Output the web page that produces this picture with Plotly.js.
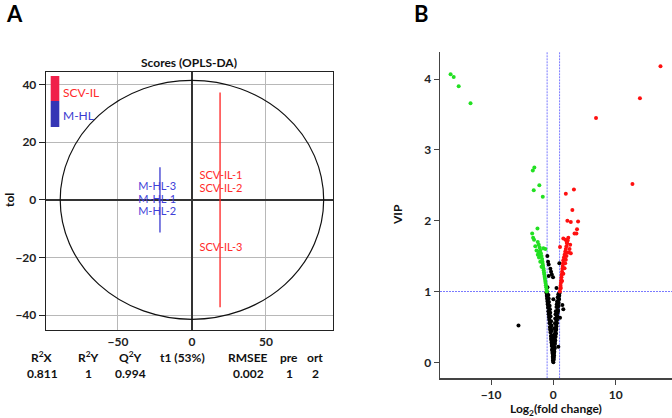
<!DOCTYPE html>
<html><head><meta charset="utf-8">
<script src="https://cdn.plot.ly/plotly-3.0.1.min.js"></script>
<style>html,body{margin:0;padding:0;background:#fff}#chart{width:672px;height:418px}</style>
</head><body><div id="chart"></div>
<script>
// ---- Panel A: OPLS-DA scores ----
const groupNames = ['SCV-IL', 'M-HL'];
const groupColors = ['#ff2020', '#3a3ad0'];
const groupT1 = [19, -21.6];
const groupTolMin = [-37.2, -11.3];
const groupTolMax = [37.2, 11.3];
const sampleNames = ['SCV-IL-1', 'SCV-IL-2', 'SCV-IL-3', 'M-HL-3', 'M-HL-1', 'M-HL-2'];
const sampleGroup = [0, 0, 0, 1, 1, 1];
const sampleT1 = [19.6, 19.6, 19.6, -23.5, -23.5, -23.5];
const sampleTol = [8.1, 3.6, -16.6, 4.3, 0, -4.4];
const ellipseT1 = 89;
const ellipseTol = 41.4;
const statLabels = ['R<sup>2</sup>X', 'R<sup>2</sup>Y', 'Q<sup>2</sup>Y', 't1 (53%)', 'RMSEE', 'pre', 'ort'];
const statValues = ['0.811', '1', '0.994', '', '0.002', '1', '2'];
const scoreXTicks = [-50, 0, 50];
const scoreYTicks = [-40, -20, 0, 20, 40];

// ---- Panel B: volcano (log2 fold change vs VIP) ----
const blackX = [0.00,-0.05,-0.10,-0.15,-0.20,-0.26,-0.30,-0.35,-0.40,-0.45,-0.50,-0.55,-0.60,-0.66,-0.70,-0.75,-0.80,-0.85,-0.90,-0.95,-1.00,-1.05,-1.10,
  0.05,0.10,0.15,0.20,0.25,0.30,0.36,0.40,0.45,0.50,0.55,0.60,0.65,0.70,0.75,0.80,0.85,0.90,0.95,1.00,
  0.02,-0.02,0.05,-0.08,0.10,-0.10,0.08,-0.15,0.12,-0.20,0.20,-0.25,0.15,-0.30,0.25,-0.35,0.30,-0.45,0.35,-0.50,0.40,-0.55,0.50,-0.60,0.55,-0.70,0.60,-0.75,0.70,-0.80,0.80,
  -0.03,0.04,-0.06,0.07,-0.12,0.13,-0.18,0.17,-0.22,0.22,-0.28,0.28,-0.38,0.33,-0.42,0.43,-0.52,0.48,-0.62,0.58,-0.68,0.66,-0.78,0.74,-0.88,0.84,-0.98,0.92,
  -0.08,0.06,-0.16,0.11,-0.24,0.19,-0.33,0.26,-0.47,0.38,-0.58,0.46,-0.72,0.53,-0.83,0.63,-0.93,0.71,-1.02,0.78,-1.08,0.87,
  -5.6,1.6,0.0,1.07,1.45,0.8,
  -0.96,-0.85,-0.75,-0.48,-0.37,-0.74,-0.25,-0.05,0.96,-1.06,-0.95,0.5];
const blackY = [0.00,0.03,0.08,0.13,0.18,0.23,0.28,0.32,0.37,0.42,0.46,0.50,0.55,0.60,0.64,0.68,0.72,0.77,0.82,0.86,0.90,0.94,0.98,
  0.04,0.10,0.15,0.20,0.26,0.31,0.36,0.41,0.46,0.51,0.55,0.60,0.65,0.70,0.74,0.80,0.84,0.89,0.94,0.98,
  0.05,0.10,0.15,0.20,0.22,0.25,0.30,0.30,0.35,0.38,0.40,0.45,0.48,0.52,0.55,0.58,0.62,0.65,0.68,0.70,0.72,0.75,0.78,0.80,0.82,0.85,0.86,0.90,0.92,0.95,0.96,
  0.02,0.07,0.11,0.12,0.17,0.18,0.24,0.27,0.29,0.33,0.36,0.39,0.44,0.43,0.49,0.53,0.57,0.59,0.63,0.66,0.69,0.73,0.77,0.79,0.83,0.88,0.93,0.97,
  0.06,0.08,0.16,0.14,0.26,0.21,0.34,0.29,0.47,0.40,0.56,0.47,0.70,0.56,0.80,0.64,0.88,0.72,0.95,0.79,0.99,0.90,
  0.52,0.75,0.89,0.63,0.81,0.22,
  1.50,1.42,1.38,1.32,1.28,1.22,1.24,1.20,1.40,1.00,1.06,1.05];
const greenX = [-1.05,-1.10,-1.15,-1.20,-1.25,-1.30,-1.35,-1.40,-1.45,-1.50,-1.55,-1.60,-1.65,-1.70,-1.75,-1.80,-1.90,-2.00,-2.10,-2.20,-2.35,-2.50,
  -1.90,-2.10,-2.30,-2.50,-2.70,-2.90,-3.10,-3.25,-3.40,-2.55,-1.70,-3.15,-2.25,-3.30,-3.05,-1.60,-1.28,-2.13,-2.40,
  -16.5,-16.0,-15.2,-13.3];
const greenY = [1.00,1.03,1.06,1.09,1.12,1.15,1.18,1.21,1.24,1.27,1.30,1.33,1.36,1.39,1.42,1.46,1.50,1.54,1.58,1.62,1.66,1.70,
  1.35,1.42,1.48,1.52,1.58,1.64,1.73,1.76,1.82,1.89,2.34,2.43,2.50,2.71,2.75,1.61,1.60,1.52,1.56,
  4.07,4.03,3.90,3.66];
const redX = [1.05,1.10,1.15,1.20,1.25,1.30,1.35,1.40,1.45,1.50,1.55,1.60,1.70,1.80,1.90,2.00,2.10,2.20,2.30,2.40,
  1.20,1.40,1.60,1.80,1.90,2.00,2.10,2.20,2.50,
  1.07,1.60,1.95,2.15,2.70,2.60,2.80,2.00,3.30,3.05,2.25,2.80,3.97,3.80,3.40,3.70,
  17.2,13.9,6.85,12.7];
const redY = [1.00,1.04,1.08,1.12,1.16,1.20,1.24,1.28,1.32,1.36,1.40,1.44,1.48,1.52,1.56,1.60,1.64,1.68,1.72,1.76,
  1.05,1.15,1.25,1.33,1.40,1.45,1.50,1.55,1.55,
  1.63,1.75,1.73,1.70,1.66,1.60,1.54,2.38,2.44,2.15,2.00,1.98,1.99,1.88,1.82,1.82,
  4.18,3.73,3.45,2.52];
const fcThreshold = 1;
const vipThreshold = 1;
const volcanoXTicks = [-10, 0, 10];
const volcanoYTicks = [0, 1, 2, 3, 4];

const FONT = 'Lato, "Open Sans", sans-serif';
const W = 672, H = 418;
const px = v => v / W, py = v => 1 - v / H;

const traces = [];
groupNames.forEach((g, i) => {
  traces.push({x: [groupT1[i], groupT1[i]], y: [groupTolMin[i], groupTolMax[i]], mode: 'lines',
    line: {color: groupColors[i], width: 1.3}, xaxis: 'x', yaxis: 'y', showlegend: false, hoverinfo: 'skip'});
});
traces.push({x: sampleT1, y: sampleTol, mode: 'text', text: sampleNames,
  textfont: {family: FONT, size: 11, color: sampleGroup.map(k => k === 0 ? '#ff2a2a' : '#4040d8')},
  textposition: 'middle center', xaxis: 'x', yaxis: 'y', showlegend: false});
traces.push({x: blackX, y: blackY, mode: 'markers', marker: {color: '#000', size: 4}, xaxis: 'x2', yaxis: 'y2', showlegend: false});
traces.push({x: greenX, y: greenY, mode: 'markers', marker: {color: '#22e022', size: 4}, xaxis: 'x2', yaxis: 'y2', showlegend: false});
traces.push({x: redX, y: redY, mode: 'markers', marker: {color: '#ff1010', size: 4}, xaxis: 'x2', yaxis: 'y2', showlegend: false});

const boldTick = {family: FONT, size: 12, color: '#222', weight: 'bold'};
const dashLine = {color: '#7a7aff', width: 1, dash: '2px,1px'};
const shapes = [
  {type: 'circle', xref: 'x', yref: 'y', x0: -ellipseT1, x1: ellipseT1, y0: -ellipseTol, y1: ellipseTol, line: {color: '#111', width: 1.2}, layer: 'above'},
  {type: 'rect', xref: 'paper', yref: 'paper', x0: px(50.7), x1: px(59.3), y0: py(101), y1: py(76), fillcolor: '#f0204a', line: {width: 0}},
  {type: 'rect', xref: 'paper', yref: 'paper', x0: px(50.7), x1: px(59.3), y0: py(127), y1: py(101), fillcolor: '#3535b5', line: {width: 0}},
  {type: 'line', xref: 'x2', yref: 'y2 domain', x0: -fcThreshold, x1: -fcThreshold, y0: 0, y1: 1, line: dashLine, layer: 'below'},
  {type: 'line', xref: 'x2', yref: 'y2 domain', x0: fcThreshold, x1: fcThreshold, y0: 0, y1: 1, line: dashLine, layer: 'below'},
  {type: 'line', xref: 'x2 domain', yref: 'y2', x0: 0, x1: 1, y0: vipThreshold, y1: vipThreshold, line: dashLine, layer: 'below'}
];

function ann(text, x, y, font, extra) {
  return Object.assign({text: text, x: px(x), y: py(y), xref: 'paper', yref: 'paper', xanchor: 'center', yanchor: 'middle',
    showarrow: false, font: Object.assign({family: FONT, size: 12, color: '#111'}, font)}, extra || {});
}
const statX = [42, 88, 130, 183, 248, 289, 315];
const annotations = [
  ann('A', 14, 14, {size: 22, weight: 'bold', color: '#000'}),
  ann('B', 421, 14, {size: 22, weight: 'bold', color: '#000'}),
  ann('Scores (OPLS-DA)', 189, 62, {weight: 'bold'}),
  ann('tol', 9, 200, {weight: 'bold'}, {textangle: -90}),
  ann('SCV-IL', 61, 92, {color: '#ff2a2a'}, {xanchor: 'left'}),
  ann('M-HL', 61, 115, {color: '#3a3ad0'}, {xanchor: 'left'}),
  ann('VIP', 398, 215, {weight: 'bold'}, {textangle: -90}),
  ann('Log<sub>2</sub>(fold change)', 556, 409, {weight: 'bold'})
];
statLabels.forEach((s, i) => {
  annotations.push(ann(s, statX[i], 357, {weight: 'bold'}));
  if (statValues[i]) annotations.push(ann(statValues[i], statX[i], 373, {weight: 'bold'}));
});

const layout = {
  width: W, height: H, margin: {l: 0, r: 0, t: 0, b: 0}, paper_bgcolor: '#fff', plot_bgcolor: '#fff',
  font: {family: FONT}, showlegend: false,
  xaxis: {domain: [px(46), px(333)], range: [-98.6, 95.3], tickvals: scoreXTicks, showgrid: true, gridcolor: '#b8b8b8',
    zeroline: true, zerolinecolor: '#333', zerolinewidth: 1.5, showline: true, mirror: true, linecolor: '#222', linewidth: 1.3,
    ticks: '', tickfont: boldTick, anchor: 'y', fixedrange: true},
  yaxis: {domain: [py(330), py(72)], range: [-45.1, 44.3], tickvals: scoreYTicks, showgrid: true, gridcolor: '#b8b8b8',
    zeroline: true, zerolinecolor: '#333', zerolinewidth: 1.5, showline: true, mirror: true, linecolor: '#222', linewidth: 1.3,
    ticks: 'outside', ticklen: 6, tickcolor: '#222', tickfont: boldTick, anchor: 'x', fixedrange: true},
  xaxis2: {domain: [px(440), 1], range: [-18.2, 19.05], tickvals: volcanoXTicks, showgrid: false, zeroline: false,
    showline: true, linecolor: '#444', linewidth: 1.5, ticks: 'outside', ticklen: 5, tickcolor: '#444', tickfont: boldTick, anchor: 'y2', fixedrange: true},
  yaxis2: {domain: [py(378.3), py(51.7)], range: [-0.226, 4.387], tickvals: volcanoYTicks, showgrid: false, zeroline: false,
    showline: true, linecolor: '#444', linewidth: 1.5, ticks: 'outside', ticklen: 5, tickcolor: '#444', tickfont: boldTick, anchor: 'x2', fixedrange: true},
  shapes: shapes, annotations: annotations
};
Plotly.newPlot('chart', traces, layout, {displayModeBar: false, staticPlot: true});
</script></body></html>
